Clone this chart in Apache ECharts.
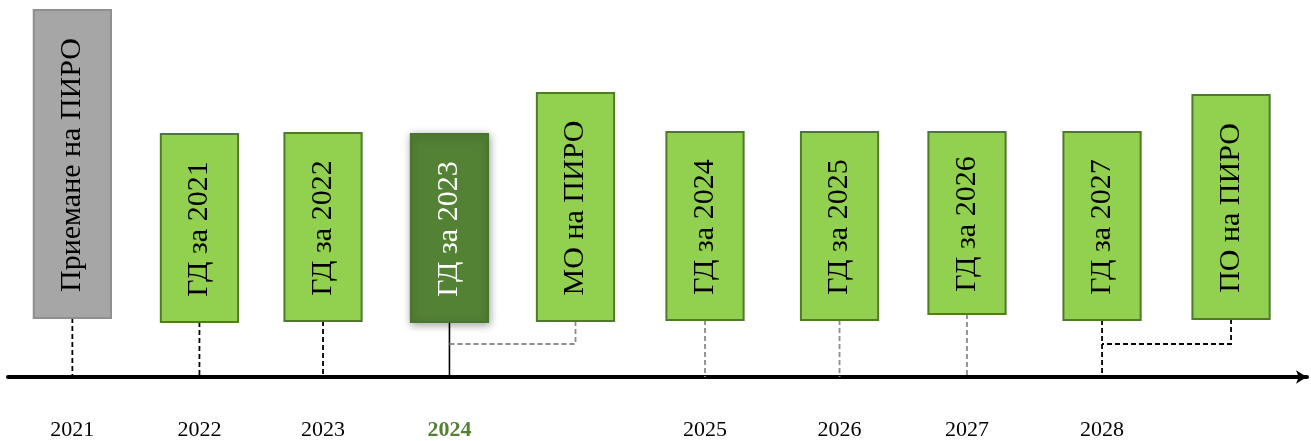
<!DOCTYPE html>
<html>
<head>
<meta charset="utf-8">
<script src="https://cdn.jsdelivr.net/npm/echarts@6/dist/echarts.min.js"></script>
<style>
html,body{margin:0;padding:0;background:#fff;}
#chart{width:1311px;height:441px;}
</style>
</head>
<body>
<div id="chart"></div>
<script>
// Timeline slot positions (along the axis)
const positions = [0, 0.987, 1.947, 2.929, 3.908, 4.914, 5.959, 6.949, 7.998, 9.0];
// Box texts
const labels = ['Приемане на ПИРО', 'ГД за 2021', 'ГД за 2022', 'ГД за 2023', 'МО на ПИРО',
                'ГД за 2024', 'ГД за 2025', 'ГД за 2026', 'ГД за 2027', 'ПО на ПИРО'];
// Box extents above the timeline (bottom, top)
const boxBottom = [59, 55, 56, 55, 56, 57, 57, 63, 57, 58];
const boxTop = [367, 243, 244, 243, 284, 245, 245, 245, 245, 282];
// Year labels under the timeline
const years = ['2021', '2022', '2023', '2024', '', '2025', '2026', '2027', '2028', ''];
// Status of each step
const status = ['adopted', 'done', 'done', 'current', 'midterm', 'future', 'future', 'future', 'next', 'final'];
// Linked step (index) for evaluations
const links = [null, null, null, null, 3, null, null, null, null, 8];

const FILL = { adopted: '#a6a6a6', current: '#548235' };
const STROKE = { adopted: '#8f8f8f', current: '#4a7530' };
const DASH_BLACK = { stroke: '#000', lineWidth: 1.8, lineDash: [5, 3] };
const DASH_GRAY = { stroke: '#8c8c8c', lineWidth: 1.8, lineDash: [5, 3] };
const CONNECTOR = {
  adopted: DASH_BLACK,
  done: DASH_BLACK,
  current: { stroke: '#000', lineWidth: 1.6 },
  midterm: DASH_GRAY,
  future: DASH_GRAY,
  next: DASH_BLACK,
  final: DASH_BLACK
};

const data = positions.map((p, i) => [p, boxBottom[i], boxTop[i]]);

function renderItem(params, api) {
  const i = params.dataIndex;
  const x = api.value(0);
  const pB = api.coord([x, api.value(1)]);
  const pT = api.coord([x, api.value(2)]);
  const base = api.coord([x, 0]);
  const w = api.size([0.6, 0])[0];
  const st = status[i];
  const children = [];
  // connector
  if (links[i] !== null) {
    const tgt = api.coord([positions[links[i]], 33]);
    children.push({
      type: 'polyline',
      shape: { points: [[pB[0], pB[1]], [pB[0], tgt[1]], [tgt[0], tgt[1]]] },
      style: Object.assign({ fill: null }, CONNECTOR[st])
    });
  } else {
    children.push({
      type: 'line',
      shape: { x1: pB[0], y1: pB[1], x2: pB[0], y2: base[1] },
      style: Object.assign({}, CONNECTOR[st])
    });
  }
  const isCur = st === 'current';
  children.push({
    type: 'rect',
    shape: { x: pB[0] - w / 2, y: pT[1], width: w, height: pB[1] - pT[1] },
    style: {
      fill: FILL[st] || '#92d050',
      stroke: STROKE[st] || '#4f7a2c',
      lineWidth: 2,
      shadowBlur: isCur ? 8 : 0,
      shadowColor: isCur ? 'rgba(0,0,0,0.35)' : 'transparent',
      shadowOffsetX: isCur ? 1 : 0,
      shadowOffsetY: isCur ? 2 : 0
    }
  });
  children.push({
    type: 'text',
    x: pB[0],
    y: (pB[1] + pT[1]) / 2 + 1,
    rotation: Math.PI / 2,
    style: {
      text: labels[i],
      align: 'center',
      verticalAlign: 'middle',
      fontFamily: '"Liberation Serif", "Times New Roman", serif',
      fontSize: 30,
      fill: isCur ? '#ffffff' : '#000000'
    }
  });
  if (years[i]) {
    children.push({
      type: 'text',
      x: pB[0],
      y: base[1] + 53,
      style: {
        text: years[i],
        align: 'center',
        verticalAlign: 'middle',
        fontFamily: '"Liberation Serif", "Times New Roman", serif',
        fontSize: 22,
        fontWeight: isCur ? 'bold' : 'normal',
        fill: isCur ? '#548235' : '#000000'
      }
    });
  }
  return { type: 'group', children: children };
}

const chart = echarts.init(document.getElementById('chart'), null, { renderer: 'canvas' });
chart.setOption({
  animation: false,
  backgroundColor: '#ffffff',
  grid: { left: 8, right: 4, top: 0, bottom: 0 },
  xAxis: {
    type: 'value', min: -0.5, max: 9.59,
    axisLine: { show: true, onZero: true, symbol: ['none', 'arrow'], symbolSize: [10, 11],
                lineStyle: { color: '#000', width: 4 } },
    axisTick: { show: false }, axisLabel: { show: false }, splitLine: { show: false }
  },
  yAxis: { type: 'value', min: -64, max: 377, show: false, splitLine: { show: false } },
  series: [{
    type: 'custom',
    renderItem: renderItem,
    clip: false,
    data: data,
    encode: { x: 0, y: [1, 2] }
  }]
});
</script>
</body>
</html>
